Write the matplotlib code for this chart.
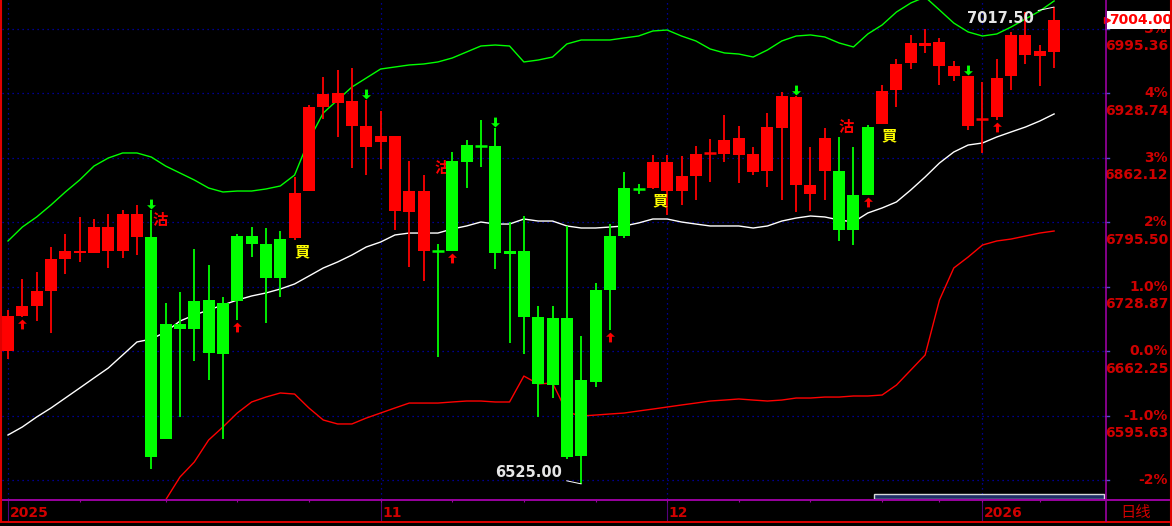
import matplotlib
matplotlib.use("Agg")
import matplotlib.pyplot as plt
from matplotlib.path import Path
from matplotlib.patches import Rectangle
import numpy as np

# daily bars (red = close above open, green = close below open)
opens = [6662.25, 6698.4, 6708.7, 6724.2, 6757.3, 6763.5, 6763.5, 6765.5, 6765.5, 6780.0,
         6780.0, 6690.1, 6690.1, 6713.9, 6714.9, 6711.8, 6781.0, 6781.0, 6772.8, 6777.9,
         6779.0, 6827.5, 6914.3, 6918.4, 6894.7, 6873.0, 6878.1, 6806.9, 6805.8, 6765.5,
         6765.5, 6858.5, 6875.0, 6874.0, 6874.0, 6765.5, 6765.5, 6697.4, 6696.3, 6696.3,
         6632.3, 6725.3, 6781.0, 6830.6, 6829.75, 6830.6, 6827.5, 6827.5, 6843.0, 6866.75,
         6865.7, 6864.7, 6847.1, 6848.2, 6892.6, 6833.7, 6824.4, 6848.2, 6848.2, 6823.4,
         6893.6, 6896.7, 6931.8, 6959.7, 6977.3, 6956.6, 6946.3, 6894.7, 6901.75, 6904.0,
         6946.3, 6968.0, 6967.0, 6971.1]
highs = [6704.6, 6736.6, 6743.9, 6769.7, 6783.1, 6800.7, 6798.6, 6803.8, 6807.9, 6813.1,
         6807.9, 6711.8, 6723.2, 6767.6, 6751.1, 6718.0, 6783.1, 6790.3, 6789.3, 6786.2,
         6842.0, 6916.3, 6945.3, 6952.5, 6954.6, 6921.5, 6910.2, 6884.3, 6858.5, 6844.0,
         6772.8, 6867.8, 6880.2, 6900.9, 6892.6, 6795.5, 6801.7, 6708.7, 6708.7, 6791.4,
         6677.7, 6732.5, 6793.4, 6847.1, 6834.7, 6864.7, 6864.7, 6863.7, 6874.0, 6881.2,
         6906.0, 6894.7, 6873.0, 6908.1, 6929.8, 6925.6, 6873.0, 6892.6, 6883.3, 6873.0,
         6895.7, 6937.0, 6963.9, 6988.7, 6994.9, 6985.6, 6961.8, 6946.3, 6940.1, 6963.9,
         6991.8, 7012.4, 6978.3, 7017.5]
lows = [6654.0, 6697.4, 6693.2, 6680.8, 6741.8, 6754.2, 6763.5, 6748.0, 6758.3, 6761.4,
        6540.4, 6571.4, 6594.1, 6651.9, 6632.3, 6571.4, 6694.3, 6759.3, 6691.2, 6718.0,
        6776.9, 6827.5, 6901.9, 6883.3, 6851.3, 6844.0, 6850.2, 6787.2, 6749.0, 6734.6,
        6656.1, 6765.5, 6830.6, 6852.3, 6747.0, 6670.5, 6659.2, 6594.1, 6613.7, 6550.7,
        6525.0, 6625.1, 6683.9, 6779.0, 6824.4, 6829.6, 6802.7, 6813.1, 6818.2, 6836.8,
        6857.5, 6835.8, 6844.0, 6831.6, 6818.2, 6805.8, 6806.9, 6818.2, 6775.9, 6771.7,
        6823.4, 6896.7, 6914.3, 6953.5, 6970.1, 6937.0, 6941.1, 6890.5, 6866.8, 6900.9,
        6931.8, 6958.7, 6936.0, 6954.6]
closes = [6698.4, 6708.7, 6724.2, 6757.3, 6765.5, 6765.5, 6790.3, 6790.3, 6803.8, 6803.8,
          6552.8, 6571.4, 6685.0, 6685.0, 6660.2, 6659.2, 6713.9, 6772.8, 6737.7, 6737.7,
          6825.5, 6914.3, 6927.7, 6928.7, 6920.5, 6894.7, 6884.3, 6884.3, 6827.5, 6827.5,
          6765.25, 6765.5, 6857.5, 6873.75, 6763.5, 6762.4, 6697.4, 6628.2, 6627.1, 6552.8,
          6553.8, 6630.2, 6725.3, 6781.0, 6829.5, 6857.5, 6857.5, 6843.0, 6865.7, 6867.0,
          6880.2, 6882.3, 6865.7, 6893.6, 6925.6, 6924.6, 6833.7, 6882.3, 6787.2, 6787.2,
          6823.4, 6930.8, 6958.7, 6980.4, 6980.4, 6981.4, 6956.6, 6946.3, 6902.0, 6944.2,
          6988.7, 6988.7, 6972.1, 7004.0]

# bollinger bands
boll_up = [6775.9, 6790.3, 6800.7, 6813.1, 6826.5, 6838.9, 6853.3, 6861.6, 6866.8, 6866.8,
           6862.6, 6853.3, 6846.1, 6838.9, 6830.6, 6826.5, 6827.5, 6827.5, 6829.6, 6832.7,
           6844.0, 6880.2, 6908.1, 6921.5, 6934.9, 6944.2, 6953.5, 6955.6, 6957.7, 6958.7,
           6960.8, 6964.9, 6971.1, 6977.3, 6978.3, 6977.3, 6960.8, 6962.8, 6965.9, 6979.4,
           6983.5, 6983.5, 6983.5, 6985.6, 6987.6, 6992.8, 6993.8, 6987.6, 6982.5, 6974.2,
           6970.1, 6969.0, 6965.9, 6973.2, 6982.5, 6987.6, 6988.7, 6986.6, 6980.4, 6976.3,
           6989.7, 6999.0, 7012.4, 7021.7, 7027.9, 7014.5, 7001.0, 6991.8, 6987.6, 6989.7,
           6996.9, 7005.2, 7013.4, 7023.8]
boll_mid = [6575.5, 6583.8, 6594.1, 6603.4, 6613.7, 6624.0, 6634.4, 6644.7, 6658.1, 6671.6,
            6674.6, 6681.9, 6693.2, 6699.4, 6704.6, 6709.8, 6714.9, 6719.1, 6722.2, 6726.3,
            6731.5, 6739.7, 6748.0, 6754.2, 6761.4, 6769.7, 6774.8, 6782.1, 6784.1, 6784.1,
            6784.1, 6788.3, 6791.4, 6795.5, 6793.4, 6793.4, 6798.6, 6796.5, 6796.5, 6791.4,
            6789.3, 6789.3, 6790.3, 6791.4, 6794.5, 6798.6, 6798.6, 6795.5, 6793.4, 6791.4,
            6791.4, 6791.4, 6789.3, 6791.4, 6796.5, 6799.6, 6801.7, 6800.7, 6797.6, 6795.5,
            6804.8, 6810.0, 6816.2, 6828.6, 6842.0, 6856.4, 6867.8, 6875.0, 6877.1, 6883.3,
            6888.5, 6893.6, 6899.8, 6907.1]
boll_dn = [np.nan] * 11 + [
           6508.4, 6532.1, 6547.6, 6570.3, 6583.8, 6598.2, 6609.6, 6614.7, 6618.9,
           6617.8, 6603.4, 6591.0, 6586.9, 6586.9, 6593.0, 6598.2, 6603.4, 6608.5, 6608.5,
           6608.5, 6609.6, 6610.6, 6610.6, 6609.6, 6609.6, 6636.4, 6628.2, 6629.2, 6599.2,
           6595.1, 6596.1, 6597.2, 6598.2, 6600.3, 6602.3, 6604.4, 6606.5, 6608.5, 6610.6,
           6611.6, 6612.7, 6611.6, 6610.6, 6611.6, 6613.7, 6613.7, 6614.7, 6614.7, 6615.8,
           6615.8, 6616.8, 6627.1, 6642.6, 6658.1, 6714.9, 6748.0, 6759.3, 6771.7, 6775.9,
           6777.9, 6781.0, 6784.1, 6786.2]

# signals
buy_arrow_bars = [1, 16, 31, 42, 60, 69]
sell_arrow_bars = [10, 25, 34, 55, 67]
sell_text_x = [10.6, 30.3, 58.5]
sell_text_y = [6797.6, 6851.3, 6893.6]
buy_text_x = [20.5, 45.5, 61.5]
buy_text_y = [6765.5, 6818.2, 6885.4]

# axis labels
base_price = 6662.25
pct_levels = [5, 4, 3, 2, 1, 0, -1, -2]
pct_labels = ["5%", "4%", "3%", "2%", "1.0%", "0.0%", "-1.0%", "-2%"]
month_bars = [0, 26, 46, 68]
month_labels = ["2025", "11", "12", "2026"]
week_bars = [5, 11, 16, 21, 26, 31, 36, 41, 46, 51, 56, 61, 65, 68, 72]

W, H = 1172, 526
RED = "#FF0000"
GREEN = "#00FF00"
AXRED = "#D00000"
PURPLE = "#9A00A0"
GRID = "#0000C0"
CJK = ["Noto Sans CJK TC", "DejaVu Sans"]

fig = plt.figure(figsize=(W / 100, H / 100), dpi=100, facecolor="black")
ax = fig.add_axes([2 / W, 1 - 499 / H, 1103 / W, 499 / H], zorder=1)
ax.set_facecolor("black")
for s in ax.spines.values():
    s.set_visible(False)
ax.set_xticks([])
ax.set_yticks([])

step = 14.33
ax.set_xlim((2 - 8) / step, (1105 - 8) / step)
ax.set_ylim(6509.4, 7024.8)
px = (7024.8 - 6509.4) / 499.0  # price per pixel

# grid
for lv in pct_levels:
    ax.axhline(base_price * (1 + lv / 100), color=GRID, lw=0.9, ls=(0, (1, 3)), zorder=0)
for m in month_bars:
    ax.axvline(m, color=GRID, lw=0.9, ls=(0, (1, 3)), zorder=0)

# bands
xs = np.arange(len(closes))
ax.plot(xs, boll_up, color=GREEN, lw=1.0, zorder=2)
ax.plot(xs, boll_mid, color="white", lw=1.0, zorder=2)
ax.plot(xs, boll_dn, color=RED, lw=1.0, zorder=2)

# candles
cw = 12 / step
o = np.array(opens)
c = np.array(closes)
cols = [RED if cc > oo else GREEN for oo, cc in zip(o, c)]
ax.vlines(xs, lows, highs, colors=cols, lw=1.3, zorder=3)
body_lo = np.minimum(o, c)
body_h = np.abs(c - o)
ax.bar(xs, body_h, width=cw, bottom=body_lo, color=cols, lw=0, zorder=4)
for i in range(len(xs)):
    if body_h[i] < 1.5:
        ax.hlines(o[i], i - cw / 2, i + cw / 2, colors=cols[i], lw=1.8, zorder=4)

# signal arrows
up = Path([(0, 1), (-0.9, 0.15), (-0.3, 0.15), (-0.3, -1), (0.3, -1), (0.3, 0.15), (0.9, 0.15), (0, 1)],
          [Path.MOVETO] + [Path.LINETO] * 6 + [Path.CLOSEPOLY])
down = Path(up.vertices * [1, -1], up.codes)
ax.scatter(buy_arrow_bars, [lows[i] - 7 * px for i in buy_arrow_bars], marker=up, s=50,
           color=RED, lw=0, zorder=5)
ax.scatter(sell_arrow_bars, [highs[i] + 6 * px for i in sell_arrow_bars], marker=down, s=50,
           color=GREEN, lw=0, zorder=5)

for x, y in zip(sell_text_x, sell_text_y):
    ax.text(x, y, "沽", color=RED, fontsize=11, fontweight="bold", family=CJK,
            ha="center", va="center", zorder=2.5)
for x, y in zip(buy_text_x, buy_text_y):
    ax.text(x, y, "買", color="#FFFF00", fontsize=11, fontweight="bold", family=CJK,
            ha="center", va="center", zorder=5)

# high / low annotations
ih = int(np.argmax(highs))
il = int(np.argmin(lows))
ax.annotate(f"{highs[ih]:.2f}", xy=(ih, highs[ih]), xytext=(-14.5, -8.3), textcoords="offset points",
            ha="right", va="center", color="#E6E6E6", fontsize=10.5, fontweight="bold",
            arrowprops=dict(arrowstyle="-", color="white", lw=0.7, shrinkA=1, shrinkB=0), zorder=6)
ax.annotate(f"{lows[il]:.2f}", xy=(il, lows[il]), xytext=(-13.5, 8.0), textcoords="offset points",
            ha="right", va="center", color="#E6E6E6", fontsize=10.5, fontweight="bold",
            arrowprops=dict(arrowstyle="-", color="white", lw=0.7, shrinkA=1, shrinkB=0), zorder=6)

# right price axis
ytr = ax.get_yaxis_transform()
xr = (1168 - 2) / 1103
for lv, lab in zip(pct_levels, pct_labels):
    p = base_price * (1 + lv / 100)
    ax.text(xr, p, lab, transform=ytr, ha="right", va="center", color=AXRED,
            fontsize=10, fontweight="bold", clip_on=False, zorder=6)
    if lv >= -1:
        ax.annotate(f"{p + 1e-6:.2f}", xy=(xr, p), xycoords=ytr, xytext=(0, -12.6), textcoords="offset points",
                    ha="right", va="center", color=AXRED, fontsize=10, fontweight="bold",
                    annotation_clip=False, zorder=6)
    ax.plot([1.0, 1.0035], [p, p], transform=ytr, color="#5050D0", lw=1, clip_on=False)

# last price tag
ax.text((1109 - 2) / 1103, closes[-1], f"{closes[-1]:.2f}", transform=ytr, ha="left", va="center",
        color=RED, fontsize=10, fontweight="bold", clip_on=False, zorder=8,
        bbox=dict(boxstyle="square,pad=0.12", fc="white", ec="none"))
ax.plot([1.0015], [closes[-1]], transform=ytr, marker=">", ms=5, color=RED, clip_on=False, zorder=8)

# bottom date axis
xtr = ax.get_xaxis_transform()
for m, lab in zip(month_bars, month_labels):
    ax.annotate(lab, xy=(m, -0.028), xycoords=xtr, xytext=(1, 0), textcoords="offset points",
                ha="left", va="center", color=AXRED, fontsize=10, fontweight="bold",
                annotation_clip=False)
    ax.plot([m, m], [0, -0.044], transform=xtr, color="#55007A", lw=0.8, clip_on=False)
ax.vlines(week_bars, -0.007, 0, transform=xtr, colors=PURPLE, lw=0.8, clip_on=False)

# frame lines and scroll bar in pixel space
ov = fig.add_axes([0, 0, 1, 1], zorder=3)
ov.set_xlim(0, W)
ov.set_ylim(H, 0)
ov.axis("off")
ov.patch.set_alpha(0)
ov.plot([0, W], [499.5, 499.5], color=PURPLE, lw=1.4)
ov.plot([0, W], [521.5, 521.5], color="#E00000", lw=1.4)
ov.plot([1105.5, 1105.5], [0, 521], color=PURPLE, lw=1.2)
ov.plot([1.0, 1.0], [0, 521], color="#E00000", lw=1.5)
ov.plot([1170.5, 1170.5], [0, H], color="#E00000", lw=1.5)
ov.add_patch(Rectangle((874, 493.5), 230, 5, fc="#1E2E66", ec="#D8D8D8", lw=1))
ov.text(1136, 513, "日线", color=AXRED, fontsize=11, family=CJK, ha="center", va="center")

fig.savefig("out.png", dpi=100, facecolor="black")
